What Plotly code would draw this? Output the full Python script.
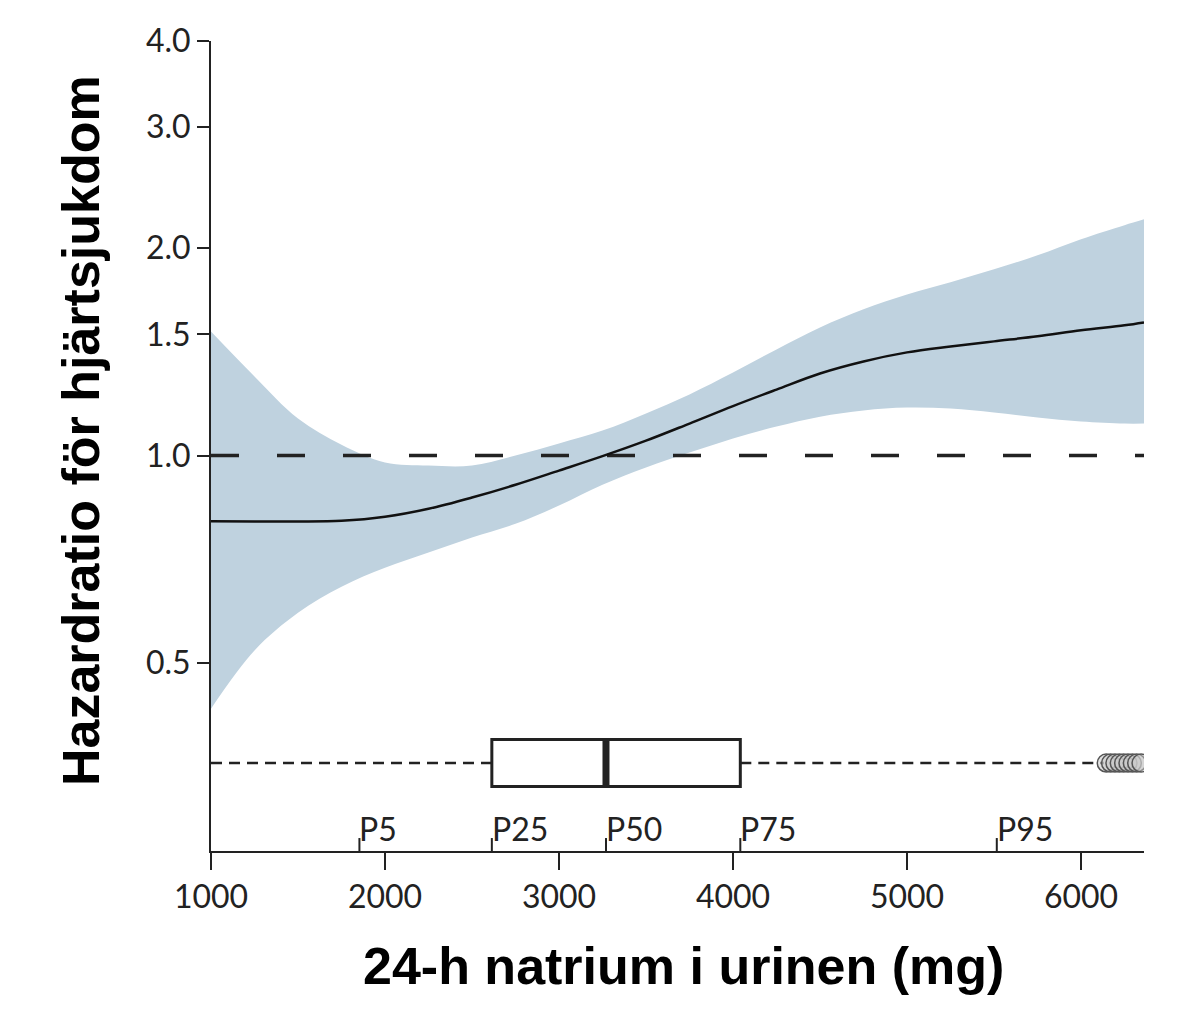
import plotly.graph_objects as go

# spline estimate of hazard ratio vs 24-h urinary sodium
natrium_mg = [1000, 1250, 1500, 1750, 2000, 2250, 2500, 2750, 3000, 3250, 3500, 3750,
              4000, 4250, 4500, 4750, 5000, 5250, 5500, 5750, 6000, 6250, 6362]
hr = [0.803, 0.802, 0.802, 0.804, 0.815, 0.837, 0.869, 0.907, 0.951, 0.998, 1.051, 1.113,
      1.180, 1.247, 1.316, 1.370, 1.412, 1.440, 1.465, 1.490, 1.520, 1.546, 1.561]
hr_upper = [1.514, 1.303, 1.132, 1.037, 0.977, 0.967, 0.967, 1.000, 1.041, 1.087, 1.151,
            1.227, 1.320, 1.426, 1.535, 1.631, 1.714, 1.785, 1.864, 1.954, 2.062, 2.161, 2.204]
hr_lower = [0.429, 0.521, 0.591, 0.645, 0.687, 0.723, 0.760, 0.796, 0.846, 0.907, 0.961,
            1.010, 1.059, 1.102, 1.139, 1.163, 1.174, 1.170, 1.155, 1.136, 1.121, 1.113, 1.113]

# distribution of the exposure
q1, median, q3 = 2614, 3270, 4042
whisker_low, whisker_high = 1000, 6130
outliers = [6145, 6170, 6195, 6220, 6245, 6270, 6295, 6320, 6345]
pct_labels = ["P5", "P25", "P50", "P75", "P95"]
pct_values = [1853, 2614, 3270, 4042, 5516]

y_ticks = [0.5, 1.0, 1.5, 2.0, 3.0, 4.0]
y_ticktext = ["0.5", "1.0", "1.5", "2.0", "3.0", "4.0"]

BOX_Y = 0.1086
BOX_H = 0.058
TICK_FONT = dict(family="Lato", size=32, color="#222")

fig = go.Figure()

# confidence band
fig.add_trace(go.Scatter(x=natrium_mg, y=hr_lower, mode="lines",
                         line=dict(width=0, shape="spline"), hoverinfo="skip"))
fig.add_trace(go.Scatter(x=natrium_mg, y=hr_upper, mode="lines", fill="tonexty",
                         fillcolor="#bfd2df", line=dict(width=0, shape="spline"),
                         hoverinfo="skip"))
fig.add_trace(go.Scatter(x=[1000, 6362], y=[1.0, 1.0], mode="lines",
                         line=dict(color="#222", width=3.5, dash="28px,38px")))
fig.add_trace(go.Scatter(x=natrium_mg, y=hr, mode="lines",
                         line=dict(color="#111", width=2.5, shape="spline")))

# boxplot on a hidden linear axis
for seg in ([whisker_low, q1], [q3, whisker_high]):
    fig.add_trace(go.Scatter(x=seg, y=[BOX_Y, BOX_Y], yaxis="y2", mode="lines",
                             line=dict(color="#222", width=2.5, dash="11px,7px")))
fig.add_trace(go.Box(q1=[q1], median=[median], q3=[q3], lowerfence=[q1], upperfence=[q3],
                     y=[BOX_Y], orientation="h", width=BOX_H, yaxis="y2",
                     fillcolor="white", line=dict(color="#222", width=3), boxpoints=False))
fig.add_trace(go.Scatter(x=[median, median], y=[BOX_Y - BOX_H / 2, BOX_Y + BOX_H / 2],
                         yaxis="y2", mode="lines", line=dict(color="#222", width=7)))
fig.add_trace(go.Scatter(x=outliers, y=[BOX_Y] * len(outliers), yaxis="y2", mode="markers",
                         marker=dict(size=18, color="rgba(200,200,200,0.5)",
                                     line=dict(color="#555", width=1.5))))

# percentile markers on the x axis
for lab, val in zip(pct_labels, pct_values):
    fig.add_shape(type="line", xref="x", yref="paper", x0=val, x1=val, y0=0, y1=0.016,
                  line=dict(color="#222", width=2))
    fig.add_annotation(x=val, y=0.0, xref="x", yref="paper", text=lab, showarrow=False,
                       xanchor="left", yanchor="bottom", xshift=-2, yshift=1, font=TICK_FONT)

fig.add_annotation(text="<b>Hazardratio för hjärtsjukdom</b>", xref="paper", yref="paper",
                   x=-0.1393, y=0.5185, textangle=-90, showarrow=False,
                   xanchor="center", yanchor="middle",
                   font=dict(family="Liberation Sans", size=52, color="black"))
fig.add_annotation(text="<b>24-h natrium i urinen (mg)</b>", xref="paper", yref="paper",
                   x=0.506, y=-0.142, showarrow=False, xanchor="center", yanchor="middle",
                   font=dict(family="Liberation Sans", size=52, color="black"))

fig.update_layout(
    width=1200, height=1015, showlegend=False,
    paper_bgcolor="white", plot_bgcolor="white",
    margin=dict(l=203, r=64, t=33, b=172),
    xaxis=dict(range=[1000, 6362], tickvals=[1000, 2000, 3000, 4000, 5000, 6000],
               showgrid=False, zeroline=False, showline=True, linecolor="#222", linewidth=2,
               ticks="outside", ticklen=17, tickwidth=2, tickcolor="#222", tickfont=TICK_FONT),
    yaxis=dict(type="log", range=[-0.5743, 0.60206], tickvals=y_ticks, ticktext=y_ticktext,
               showgrid=False, zeroline=False, showline=True, linecolor="#222", linewidth=2,
               ticks="outside", ticklen=12, tickwidth=2, tickcolor="#222", tickfont=TICK_FONT),
    yaxis2=dict(range=[0, 1], overlaying="y", visible=False),
)

fig.write_html("out.html")
